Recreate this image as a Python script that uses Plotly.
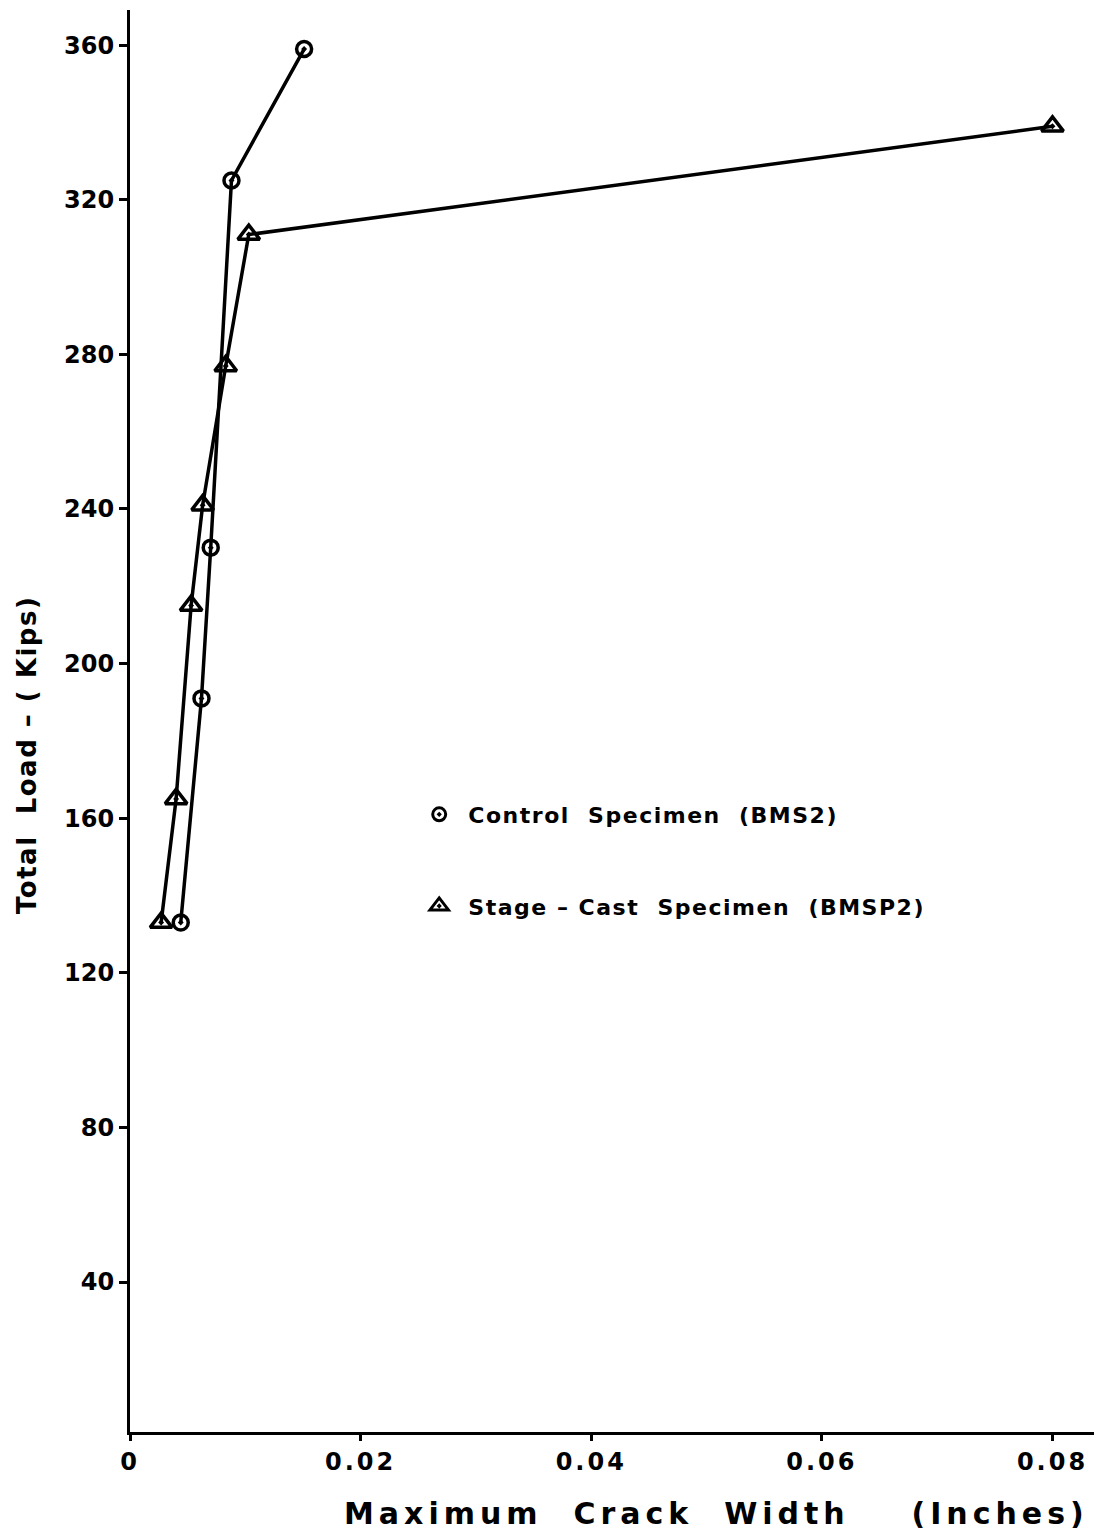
import plotly.graph_objects as go

# Load vs. maximum crack width for the two beam specimens
control_width = [0.0044, 0.0062, 0.0070, 0.0088, 0.0151]
control_load = [133, 191, 230, 325, 359]

stage_width = [0.0027, 0.0040, 0.0053, 0.0063, 0.0083, 0.0103, 0.0800]
stage_load = [133, 165, 215, 241, 277, 311, 339]

x_ticks = [0, 0.02, 0.04, 0.06, 0.08]
x_tick_text = ["0", "0.02", "0.04", "0.06", "0.08"]
y_ticks = [40, 80, 120, 160, 200, 240, 280, 320, 360]

FONT = "DejaVu Sans"
INK = "black"


def spaced(text, px):
    """Wrap text in a span with extra letter spacing."""
    return f'<span style="letter-spacing:{px}px">{text}</span>'


fig = go.Figure()

fig.add_trace(go.Scatter(
    x=control_width, y=control_load, mode="lines+markers",
    line=dict(color=INK, width=3.5),
    marker=dict(symbol="circle-open-dot", size=15, color=INK, line=dict(width=3.5)),
    showlegend=False,
))
fig.add_trace(go.Scatter(
    x=stage_width, y=stage_load, mode="lines+markers",
    line=dict(color=INK, width=3.5),
    marker=dict(symbol="triangle-up-open-dot", size=19, color=INK, line=dict(width=3.5)),
    showlegend=False,
))

# Legend entries (markers only)
fig.add_trace(go.Scatter(
    x=[None], y=[None], mode="markers",
    name=spaced(" Control  Specimen  (BMS2)", 1.5),
    marker=dict(symbol="circle-open-dot", size=13, color=INK, line=dict(width=3)),
    legendgroup="a",
))
fig.add_trace(go.Scatter(
    x=[None], y=[None], mode="markers",
    name=spaced(" Stage \u2013 Cast  Specimen  (BMSP2)", 1.5),
    marker=dict(symbol="triangle-up-open-dot", size=16, color=INK, line=dict(width=3)),
    legendgroup="b",
))

fig.update_layout(
    width=1094, height=1537,
    margin=dict(l=130, r=0, t=10, b=105),
    paper_bgcolor="white", plot_bgcolor="white",
    font=dict(family=FONT, color=INK, size=24, weight="bold"),
    legend=dict(
        x=0.30, y=0.449, xanchor="left", yanchor="top",
        bgcolor="rgba(0,0,0,0)", tracegroupgap=60,
        font=dict(size=22, family=FONT, color=INK, weight="bold"),
        itemwidth=30,
    ),
    xaxis=dict(
        range=[0, 0.0836], tickvals=x_ticks,
        ticktext=[spaced(t, 3) for t in x_tick_text],
        showgrid=False, zeroline=False,
        showline=True, linecolor=INK, linewidth=3,
        ticks="outside", ticklen=6, tickwidth=3, tickcolor=INK,
        tickfont=dict(size=24, weight="bold"),
    ),
    yaxis=dict(
        range=[1.2, 369.1], tickvals=y_ticks,
        showgrid=False, zeroline=False,
        showline=True, linecolor=INK, linewidth=3,
        ticks="outside", ticklen=8, tickwidth=3, tickcolor=INK,
        tickfont=dict(size=24, weight="bold"),
    ),
    annotations=[
        dict(
            text=spaced("Maximum  Crack  Width    (Inches)", 5),
            xref="paper", yref="paper", x=0.608, y=-0.0575,
            xanchor="center", yanchor="middle", showarrow=False,
            font=dict(size=30, family=FONT, color=INK, weight="bold"),
        ),
        dict(
            text=spaced("Total  Load \u2013 ( Kips)", 1.5),
            xref="paper", yref="paper", x=-0.107, y=0.476,
            xanchor="center", yanchor="middle", showarrow=False, textangle=-90,
            font=dict(size=26, family=FONT, color=INK, weight="bold"),
        ),
    ],
)

fig.write_html("out.html")
